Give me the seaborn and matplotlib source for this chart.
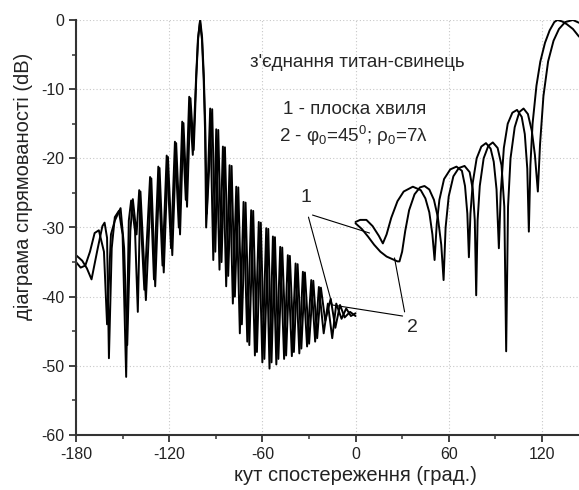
import numpy as np
import pandas as pd
import matplotlib
matplotlib.use("Agg")
import matplotlib.pyplot as plt
import seaborn as sns

# ---- data (angle in deg, level in dB) ----
# curve 1 (plane wave), left half-space
c1_left_ang = [-180, -176, -173, -170, -166, -163, -161.6, -160, -158.8, -157, -155, -152.4, -150, -147.7,
               -146, -144.5, -142, -140.2, -138.5, -135, -131.5, -129, -126.2, -123.5, -120.8, -118, -115.5,
               -113, -110.8, -108.5, -106.3, -104.2, -103.4, -102.5, -101.3, -100, -98.8, -97.7, -96.8,
               -95.8, -93.6, -91.6, -89.7, -87.6,
               -85.4, -83.3, -81.1, -79, -76.8, -74.5, -72.1, -69.7, -67.2, -64.8, -62.3, -60, -57.5, -55.4,
               -53.2, -51, -48.5, -46, -43.6, -41, -38.6, -36.2, -33.9, -31.2, -28.5, -26, -23.6, -20.5,
               -17.8, -15, -12.4, -9, -6, -3, 0]
c1_left_db = [-34.0, -34.8, -35.9, -37.5, -33.0, -29.8, -29.3, -31.5, -48.9, -33.0, -28.5, -27.6, -31.0, -51.6,
              -29.0, -26.1, -30.5, -42.2, -24.8, -40.5, -22.9, -38.5, -21.4, -36.5, -19.8, -34.0, -17.8,
              -31.0, -14.9, -27.0, -11.3, -18.8, -14.0, -8.0, -2.5, 0.0, -2.5, -8.0, -15.0,
              -28.0, -12.8, -34.7, -15.8, -36.1,
              -18.3, -38.5, -21.0, -41.0, -24.1, -45.3, -26.3, -46.5, -27.5, -48.5, -29.2, -49.5, -30.1, -50.4,
              -31.3, -49.8, -32.8, -49.0, -34.0, -48.6, -35.2, -48.2, -36.4, -47.2, -37.6, -46.5, -38.6, -45.3,
              -41.0, -46.0, -41.0, -43.2, -41.7, -42.8, -42.4]

# curve 2 (phi0=45, rho0=7 lambda), left half-space
c2_left_ang = [-180, -177, -174, -171, -168, -165.3, -162, -160, -157.5, -155, -151.3, -149, -147, -145,
               -143.4, -141, -139.3, -136, -132.3, -129.8, -127.0, -124.3, -121.6, -118.8, -116.3, -113.8,
               -111.6, -109.3, -107.1, -104.8, -103.8, -102.7, -101.5, -100.2, -98.9, -97.8, -96.9,
               -96.2, -92.3, -90.3, -88.4, -86.3, -84.1, -82.0, -79.8, -77.7, -75.5, -73.2, -70.8, -68.4,
               -65.9, -63.5, -61.0, -58.7, -56.2, -54.1, -51.9, -49.7, -47.2, -44.7, -42.3, -39.7, -37.3,
               -34.9, -32.6, -29.9, -27.2, -24.7, -22.3, -19.5, -16.0, -13.0, -10.0, -7.0, -3.5, 0]
c2_left_db = [-35.0, -35.8, -35.5, -33.5, -30.8, -30.4, -33.5, -44.0, -31.0, -29.0, -27.2, -33.0, -47.0, -30.5,
              -25.9, -31.0, -24.6, -39.0, -22.7, -37.5, -21.2, -35.5, -19.6, -33.0, -17.6, -30.0,
              -14.7, -26.0, -11.1, -19.5, -14.5, -8.5, -2.8, -0.2, -2.8, -8.5, -16.0,
              -30.0, -12.9, -33.5, -15.9, -35.0, -18.4, -37.0, -21.1, -40.0, -24.2, -44.0, -26.4, -47.0,
              -27.6, -48.0, -29.3, -49.0, -30.2, -49.5, -31.4, -49.0, -32.9, -48.5, -34.1, -48.0, -35.3,
              -47.5, -36.5, -46.8, -37.7, -46.0, -38.7, -43.5, -40.3, -44.5, -41.2, -43.0, -42.2, -42.8]

# curve 1, right half-space
c1_right_ang = [0, 3, 7, 11, 15, 17.6, 20, 23, 27, 31, 36.9, 42, 45, 47.5, 49.5, 50.9, 52.3, 54, 57, 61,
                65, 68.5, 70.5, 72, 73, 74, 75.5, 78, 81, 84, 87, 89, 90.8, 92.3, 93.5, 95.5, 98, 101,
                104, 107, 109, 110.6, 111.6, 112.6, 114, 116.5, 119, 122, 125, 128, 130, 133, 136, 140,
                143.9]
c1_right_db = [-29.2, -28.9, -28.9, -29.8, -31.2, -32.3, -31.0, -28.6, -26.2, -24.8, -24.1, -24.6, -25.8,
               -27.8, -31.0, -34.7, -29.5, -26.0, -23.0, -21.6, -21.2, -21.8, -24.0, -28.0, -34.3, -28.0,
               -23.5, -20.0, -18.3, -17.8, -18.6, -20.5, -24.5, -33.0, -25.0, -18.5, -15.0, -13.4, -13.0,
               -14.0, -16.5, -21.5, -30.6, -21.0, -15.0, -9.5, -6.0, -3.3, -1.5, -0.3, 0.0, -0.2, -0.6,
               -1.3, -2.4]

# curve 2, right half-space
c2_right_ang = [0, 4, 8, 12, 16, 20, 24, 27, 28.3, 30, 32, 34.5, 38, 41.5, 44.4, 47.5, 50.5, 53, 55.2, 56.7,
                58, 60, 63, 66.5, 70.2, 73.5, 75.5, 76.8, 77.7, 78.6, 80, 82.5, 85.5, 88.4, 91.5, 94, 95.8,
                97, 98.2, 99.8, 102.5, 105.5, 108.2, 111, 113.5, 115.5, 117.4, 118.8, 121, 124, 127.5,
                131, 135, 140, 143.9]
c2_right_db = [-29.4, -30.2, -31.3, -32.5, -33.5, -34.2, -34.6, -34.9, -34.9, -33.5, -30.5, -27.5, -25.2,
               -24.2, -24.0, -24.5, -26.0, -28.5, -32.5, -37.6, -30.0, -25.5, -22.6, -21.4, -21.1, -22.0,
               -24.5, -29.0, -39.8, -29.0, -24.0, -20.0, -18.2, -17.7, -18.5, -21.0, -27.0, -47.9, -27.0,
               -20.0, -15.5, -13.3, -12.8, -13.6, -16.0, -19.5, -24.8, -18.0, -11.0, -6.0, -3.0, -1.3,
               -0.3, 0.0, -0.4]

xticks = [-180, -120, -60, 0, 60, 120]
yticks = [0, -10, -20, -30, -40, -50, -60]

# ---- style ----
sns.set_style("ticks")
plt.rcParams["font.family"] = ["Liberation Sans", "DejaVu Sans"]
plt.rcParams["mathtext.fontset"] = "custom"
plt.rcParams["mathtext.rm"] = "Liberation Sans"
plt.rcParams["mathtext.it"] = "Liberation Sans"
plt.rcParams["axes.unicode_minus"] = False

fig = plt.figure(figsize=(5.79, 4.90), dpi=100)
ax = fig.add_axes([76 / 579, 55 / 490, 503 / 579, 415 / 490])

segments = [(c1_left_ang, c1_left_db), (c2_left_ang, c2_left_db),
            (c1_right_ang, c1_right_db), (c2_right_ang, c2_right_db)]
for ang, db in segments:
    df = pd.DataFrame({"angle": ang, "dB": db})
    sns.lineplot(data=df, x="angle", y="dB", sort=False, estimator=None,
                 color="black", lw=1.4, ax=ax)

ax.set_xlim(-180, 143.9)
ax.set_ylim(-60, 0)
ax.set_xticks(xticks)
ax.set_yticks(yticks)
ax.set_xticks(np.arange(-150, 143, 60), minor=True)
ax.set_yticks(np.arange(-55, 0, 10), minor=True)
ax.tick_params(axis="both", which="major", direction="out", length=5, width=1.3,
               labelsize=11.5, colors="#333333", labelcolor="#222222")
ax.tick_params(axis="both", which="minor", direction="out", length=3, width=1.1, colors="#333333")
ax.grid(True, which="major", ls=(0, (1, 2)), lw=0.8, color="#c8c8c8")
for s in ["top", "right"]:
    ax.spines[s].set_visible(False)
for s in ["left", "bottom"]:
    ax.spines[s].set_linewidth(1.5)
    ax.spines[s].set_color("#333333")

ax.set_xlabel("кут спостереження (град.)", fontsize=14.5, color="#222222")
ax.xaxis.set_label_coords(180 / 323.9, -0.075)
ax.set_ylabel("діаграма спрямованості (dB)", fontsize=14.5, color="#222222")
ax.yaxis.set_label_coords(-0.085, 0.6)

ax.text(-68, -6.2, "з'єднання титан-свинець", fontsize=13.5, va="center")
ax.text(-47, -13.0, "1 - плоска хвиля", fontsize=13.5, va="center")
ax.text(-49, -16.8, "2 - φ$_0$=45$^0$; ρ$_0$=7λ", fontsize=13.5, va="center")

# callouts
ax.text(-32.2, -25.7, "1", fontsize=14, ha="center", va="center")
ax.text(36.7, -44.5, "2", fontsize=14, ha="center", va="center")
ax.plot([-27.7, 9.0], [-28.2, -30.8], color="black", lw=0.8)
ax.plot([-30.3, -15.0], [-28.5, -41.2], color="black", lw=0.8)
ax.plot([30.3, -15.0], [-42.8, -41.2], color="black", lw=0.8)
ax.plot([31.6, 25.1], [-42.2, -34.4], color="black", lw=0.8)

fig.savefig("out.png", dpi=100)
